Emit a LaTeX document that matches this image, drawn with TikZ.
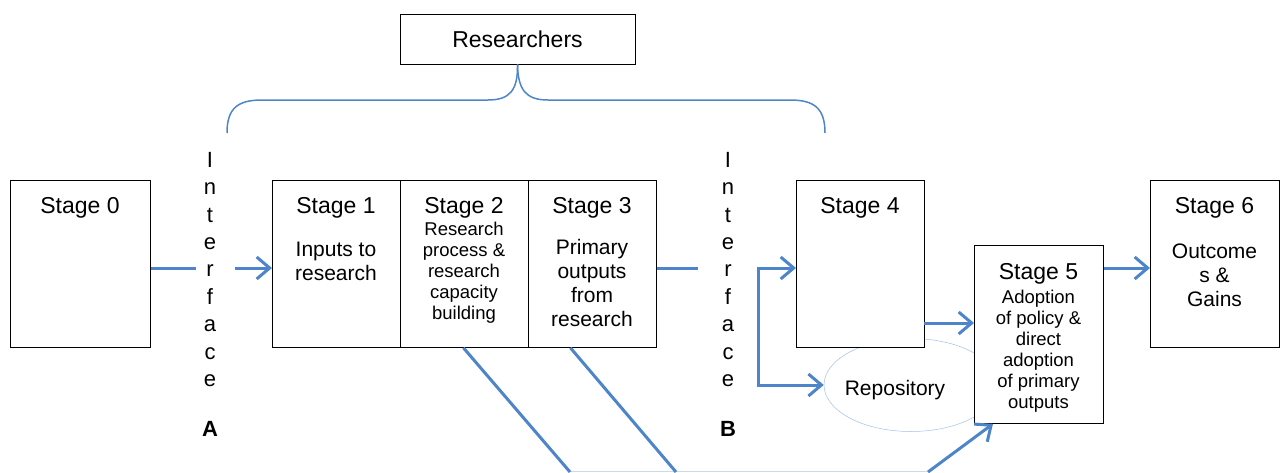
\documentclass[tikz,border=0pt]{standalone}
\usepackage{fontspec}
\setmainfont{Liberation Sans}
\usetikzlibrary{arrows.meta,shapes.geometric}

\definecolor{flow}{HTML}{4E84C9}
\definecolor{faint}{HTML}{9FC0E8}
\definecolor{pale}{HTML}{C8DAF0}

\begin{document}
\begin{tikzpicture}[x=1pt,y=-1pt,
  box/.style={draw=black, line width=0.8pt, fill=white, anchor=north west,
    inner sep=0pt, minimum width=128pt, minimum height=167pt},
  title/.style={font=\fontsize{23}{27}\selectfont, anchor=base, inner sep=0pt},
  body/.style={font=\fontsize{21}{24}\selectfont, align=center, anchor=north, inner sep=0pt},
  small/.style={font=\fontsize{18.5}{21}\selectfont, align=center, anchor=north, inner sep=0pt},
  letters/.style={font=\fontsize{22}{27.4}\selectfont, align=center, anchor=north, inner sep=0pt},
  iface/.style={font=\bfseries\fontsize{22}{26}\selectfont, anchor=base, inner sep=0pt},
  flowline/.style={draw=flow, line width=3pt},
  flowarrow/.style={flowline, -{Straight Barb[length=13pt,width=22pt]}},
]
\useasboundingbox (0,0) rectangle (1283,472);

% researchers box and the bracket over stages 1 to 4
\node[draw=black, line width=0.8pt, fill=white, minimum width=235pt, minimum height=50pt,
  inner sep=0pt, font=\fontsize{23}{27}\selectfont] (res) at (517.5,39) {Researchers};
\draw[flow, line width=1.5pt] (227,133) .. controls (227,108) and (238,100) .. (262,100)
  -- (488,100) .. controls (510,100) and (518,90) .. (res.south);
\draw[flow, line width=1.5pt] (res.south) .. controls (518,90) and (526,100) .. (548,100)
  -- (790,100) .. controls (814,100) and (825,108) .. (825,133);

% repository, partly hidden behind the stage boxes
\node[draw=faint, line width=0.5pt, ellipse, minimum width=174pt, minimum height=93pt,
  inner sep=0pt] (repo) at (911,385) {};
\node[font=\fontsize{21}{24}\selectfont, inner sep=0pt] (repotext) at (895,390) {Repository};

% bottom return paths
\coordinate (b1) at (570,472);
\coordinate (b2) at (676,472);
\coordinate (b3) at (928,472);
\draw[pale, line width=0.6pt] (570,471.2) -- (928,471.2);

% stage boxes
\node[box, minimum width=140pt] (s0) at (10,180) {};
\node[box] (s1) at (272,180) {};
\node[box] (s2) at (400,180) {};
\node[box] (s3) at (528,180) {};
\node[box] (s4) at (796,180) {};
\node[box, minimum width=129pt, minimum height=178pt] (s5) at (974,245) {};
\node[box, minimum width=129pt] (s6) at (1150,180) {};

% stage titles
\node[title] (t0) at (80,213) {Stage 0};
\node[title] (t1) at (336,213) {Stage 1};
\node[title] (t2) at (464,213) {Stage 2};
\node[title] (t3) at (592,213) {Stage 3};
\node[title] (t4) at (860,213) {Stage 4};
\node[title] (t5) at (1038.5,279) {Stage 5};
\node[title] (t6) at (1214.5,213) {Stage 6};

% stage descriptions
\node[body] (d1) at (336,242) {Inputs to\\research};
\node[small] (d2) at (464,222) {Research\\process \&\\research\\capacity\\building};
\node[body] (d3) at (592,239) {Primary\\outputs\\from\\research};
\node[small] (d5) at (1038.5,290) {Adoption\\of policy \&\\direct\\adoption\\of primary\\outputs};
\node[body] (d6) at (1214.5,244) {Outcome\\s \&\\Gains};

% interfaces
\node[letters] (ia) at (210,152) {I\\n\\t\\e\\r\\f\\a\\c\\e};
\node[iface] (la) at (210,436) {A};
\node[letters] (ib) at (728,152) {I\\n\\t\\e\\r\\f\\a\\c\\e};
\node[iface] (lb) at (728,436) {B};

% flows across interface A
\coordinate (ga) at (196,268);
\coordinate (ha) at (235,268);
\draw[flowline] (s0.east |- ga) -- (ga);
\draw[flowarrow] (ha) -- (s1.west |- ha);

% flows across interface B
\coordinate (gb) at (698,268);
\coordinate (hb) at (758,268);
\coordinate (kb) at (758,385);
\draw[flowline] (s3.east |- gb) -- (gb);
\draw[flowarrow] (kb) -- (hb) -- (s4.west |- hb);
\draw[flowarrow] (hb) -- (kb) -- (repo.west);

% downstream flows
\draw[flowarrow] (924,323) -- (s5.west |- 0,323);
\draw[flowarrow] (s5.east |- 0,268) -- (s6.west |- 0,268);

% lines running down from stages 2 and 3, and back up into stage 5
\draw[flowline] ([xshift=-1pt]s2.south) -- (b1);
\draw[flowline] ([xshift=-22pt]s3.south) -- (b2);
\draw[flowarrow] (b3) -- ([xshift=19pt]s5.south west);
\end{tikzpicture}
\end{document}
